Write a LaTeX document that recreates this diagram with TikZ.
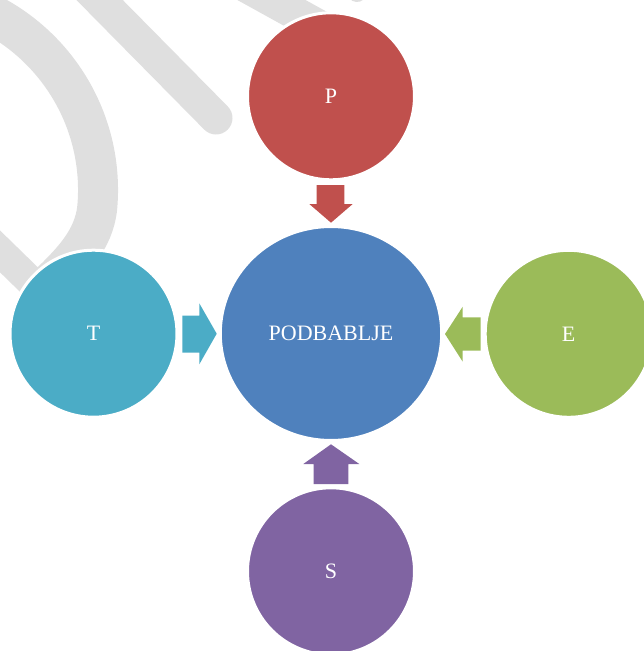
\documentclass[tikz,border=0pt]{standalone}
\usepackage{fontspec}
\setmainfont{Liberation Serif}
\usetikzlibrary{shapes.geometric}
\definecolor{cP}{HTML}{C0504D}
\definecolor{cC}{HTML}{4F81BD}
\definecolor{cT}{HTML}{4BACC6}
\definecolor{cE}{HTML}{9BBB59}
\definecolor{cS}{HTML}{8064A2}
\definecolor{wmgrey}{HTML}{DFDFDF}
\begin{document}
\begin{tikzpicture}[x=1pt,y=-1pt,
  wm/.style={draw=wmgrey, line width=33pt, line cap=round},
  bubble/.style={circle, draw=white, line width=3pt, text=white,
    font=\fontsize{22}{24}\selectfont, inner sep=0pt, minimum size=167pt},
  hub/.style={ellipse, draw=white, line width=3pt, text=white, fill=cC,
    font=\fontsize{22}{24}\selectfont, inner sep=0pt,
    minimum width=221.4pt, minimum height=214pt}]
\useasboundingbox (0,0) rectangle (643,651);
% background watermark strokes
\draw[wm] (70,-30) -- (216,118);
\draw[wm] (200,-39.5) -- (351,44);
\draw[wm, line width=20pt] (350,-30) -- (357,-8);
\draw[wm, line width=40pt, line cap=butt] (-65.6,-5) arc[start angle=80, end angle=-5, radius=198pt]
  .. controls (94,240) and (72,262) .. (45,288);
\draw[wm, line width=30pt, line cap=butt] (-25,227) -- (55,305);
% nodes
\node[hub] (c) at (331,333.5) {PODBABLJE};
\node[bubble, fill=cP] (p) at (331,96.3) {P};
\node[bubble, fill=cT] (t) at (93.5,333.7) {T};
\node[bubble, fill=cE] (e) at (568.7,333.8) {E};
\node[bubble, fill=cS] (s) at (331,571.3) {S};
% block arrows
\fill[cP] (316.7,185) -- (344.3,185) -- (344.3,204) -- (352.7,204)
  -- (331,222.7) -- (309.3,204) -- (316.7,204) -- cycle;
\fill[cT] (182.3,315.7) -- (199.3,315.7) -- (199.3,303.3) -- (216.7,333.7)
  -- (199.3,364.3) -- (199.3,352.7) -- (182.3,352.7) -- cycle;
\fill[cE] (480.7,317.3) -- (462.7,317.3) -- (462.7,306.7) -- (445,334)
  -- (462.7,361.7) -- (462.7,350.7) -- (480.7,350.7) -- cycle;
\fill[cS] (313.7,484) -- (313.7,464) -- (303.3,464) -- (331,444.3)
  -- (359.3,464) -- (348.3,464) -- (348.3,484) -- cycle;
\end{tikzpicture}
\end{document}
